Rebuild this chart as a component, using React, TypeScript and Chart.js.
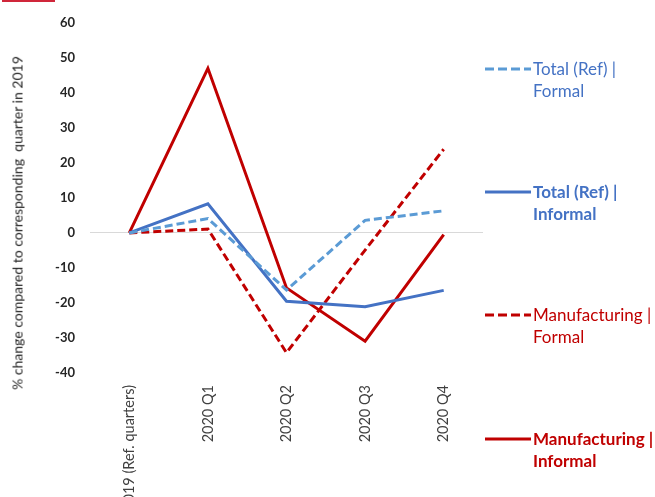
import React, { useEffect, useRef } from "react";
import { Chart, registerables } from "chart.js";

Chart.register(...registerables);

const categories = ["2019 (Ref. quarters)", "2020 Q1", "2020 Q2", "2020 Q3", "2020 Q4"];
const totalFormal = [0, 4.1, -16.3, 3.6, 6.3];
const totalInformal = [0, 8.3, -19.5, -21.1, -16.4];
const manufFormal = [0, 1.1, -34.2, -4.9, 23.9];
const manufInformal = [0, 47.0, -15.7, -30.9, -0.5];
const yMin = -40;
const yMax = 60;
const yStep = 10;

const BLUE = "#4472C4";
const LIGHTBLUE = "#5B9BD5";
const RED = "#C00000";
const FONT = "Lato, 'Open Sans', sans-serif";

const legendItems = [
  { l1: "Total (Ref) |", l2: "Formal", line: LIGHTBLUE, text: BLUE, dashed: true, bold: false, top: 58 },
  { l1: "Total (Ref) |", l2: "Informal", line: BLUE, text: BLUE, dashed: false, bold: true, top: 181 },
  { l1: "Manufacturing |", l2: "Formal", line: RED, text: RED, dashed: true, bold: false, top: 304 },
  { l1: "Manufacturing |", l2: "Informal", line: RED, text: RED, dashed: false, bold: true, top: 428 },
];

export default function App() {
  const ref = useRef<HTMLCanvasElement | null>(null);

  useEffect(() => {
    if (!ref.current) return;
    const chart = new Chart(ref.current, {
      type: "line",
      data: {
        labels: categories,
        datasets: [
          { label: "Total (Ref) | Formal", data: totalFormal, borderColor: LIGHTBLUE, borderWidth: 3, borderDash: [8, 4], pointRadius: 0, tension: 0, fill: false },
          { label: "Total (Ref) | Informal", data: totalInformal, borderColor: BLUE, borderWidth: 3, pointRadius: 0, tension: 0, fill: false },
          { label: "Manufacturing | Formal", data: manufFormal, borderColor: RED, borderWidth: 3, borderDash: [8, 4], pointRadius: 0, tension: 0, fill: false },
          { label: "Manufacturing | Informal", data: manufInformal, borderColor: RED, borderWidth: 3, pointRadius: 0, tension: 0, fill: false },
        ],
      },
      options: {
        animation: false,
        responsive: false,
        maintainAspectRatio: false,
        layout: { padding: { top: 22, right: 172, left: 0, bottom: 0 } },
        plugins: { legend: { display: false }, tooltip: { enabled: false } },
        scales: {
          x: {
            offset: true,
            grid: { display: false, drawTicks: false },
            border: { display: false },
            ticks: {
              minRotation: 90,
              maxRotation: 90,
              padding: 12,
              color: "#404040",
              font: { family: FONT, size: 14.5 },
              autoSkip: false,
            },
            afterFit: (s: any) => { s.height = 497 - 373; },
          },
          y: {
            min: yMin,
            max: yMax,
            grid: {
              drawTicks: false,
              color: (ctx: any) => (ctx.tick && ctx.tick.value === 0 ? "#D9D9D9" : "rgba(0,0,0,0)"),
              lineWidth: 1,
            },
            border: { display: false },
            ticks: {
              stepSize: yStep,
              padding: 15,
              color: "#262626",
              font: { family: FONT, size: 13, weight: "bold" },
            },
            afterFit: (s: any) => { s.width = 90; },
          },
        },
      },
    });
    return () => chart.destroy();
  }, []);

  return (
    <div style={{ position: "fixed", left: 0, top: 0, width: 655, height: 497, overflow: "hidden", background: "#fff", fontFamily: FONT }}>
      <div style={{ position: "absolute", left: 2, top: 0, width: 53, height: 2, background: "#D0263A" }} />
      <canvas ref={ref} width={655} height={497} style={{ position: "absolute", left: 0, top: 0 }} />
      <div
        style={{
          position: "absolute",
          left: 17,
          top: 223,
          transform: "translate(-50%, -50%) rotate(-90deg)",
          whiteSpace: "pre",
          fontSize: 14,
          color: "#262626",
        }}
      >
        {"% change compared to corresponding  quarter in 2019"}
      </div>
      {legendItems.map((it, i) => (
        <div key={i} style={{ position: "absolute", left: 484, top: it.top, display: "flex", alignItems: "flex-start" }}>
          <svg width={48} height={22} style={{ display: "block" }}>
            <line x1={1} y1={11} x2={47} y2={11} stroke={it.line} strokeWidth={3} strokeDasharray={it.dashed ? "9 4" : undefined} />
          </svg>
          <div style={{ color: it.text, fontSize: 17, lineHeight: "22px", fontWeight: it.bold ? 700 : 400, marginLeft: 1, whiteSpace: "nowrap" }}>
            <div>{it.l1}</div>
            <div>{it.l2}</div>
          </div>
        </div>
      ))}
    </div>
  );
}
